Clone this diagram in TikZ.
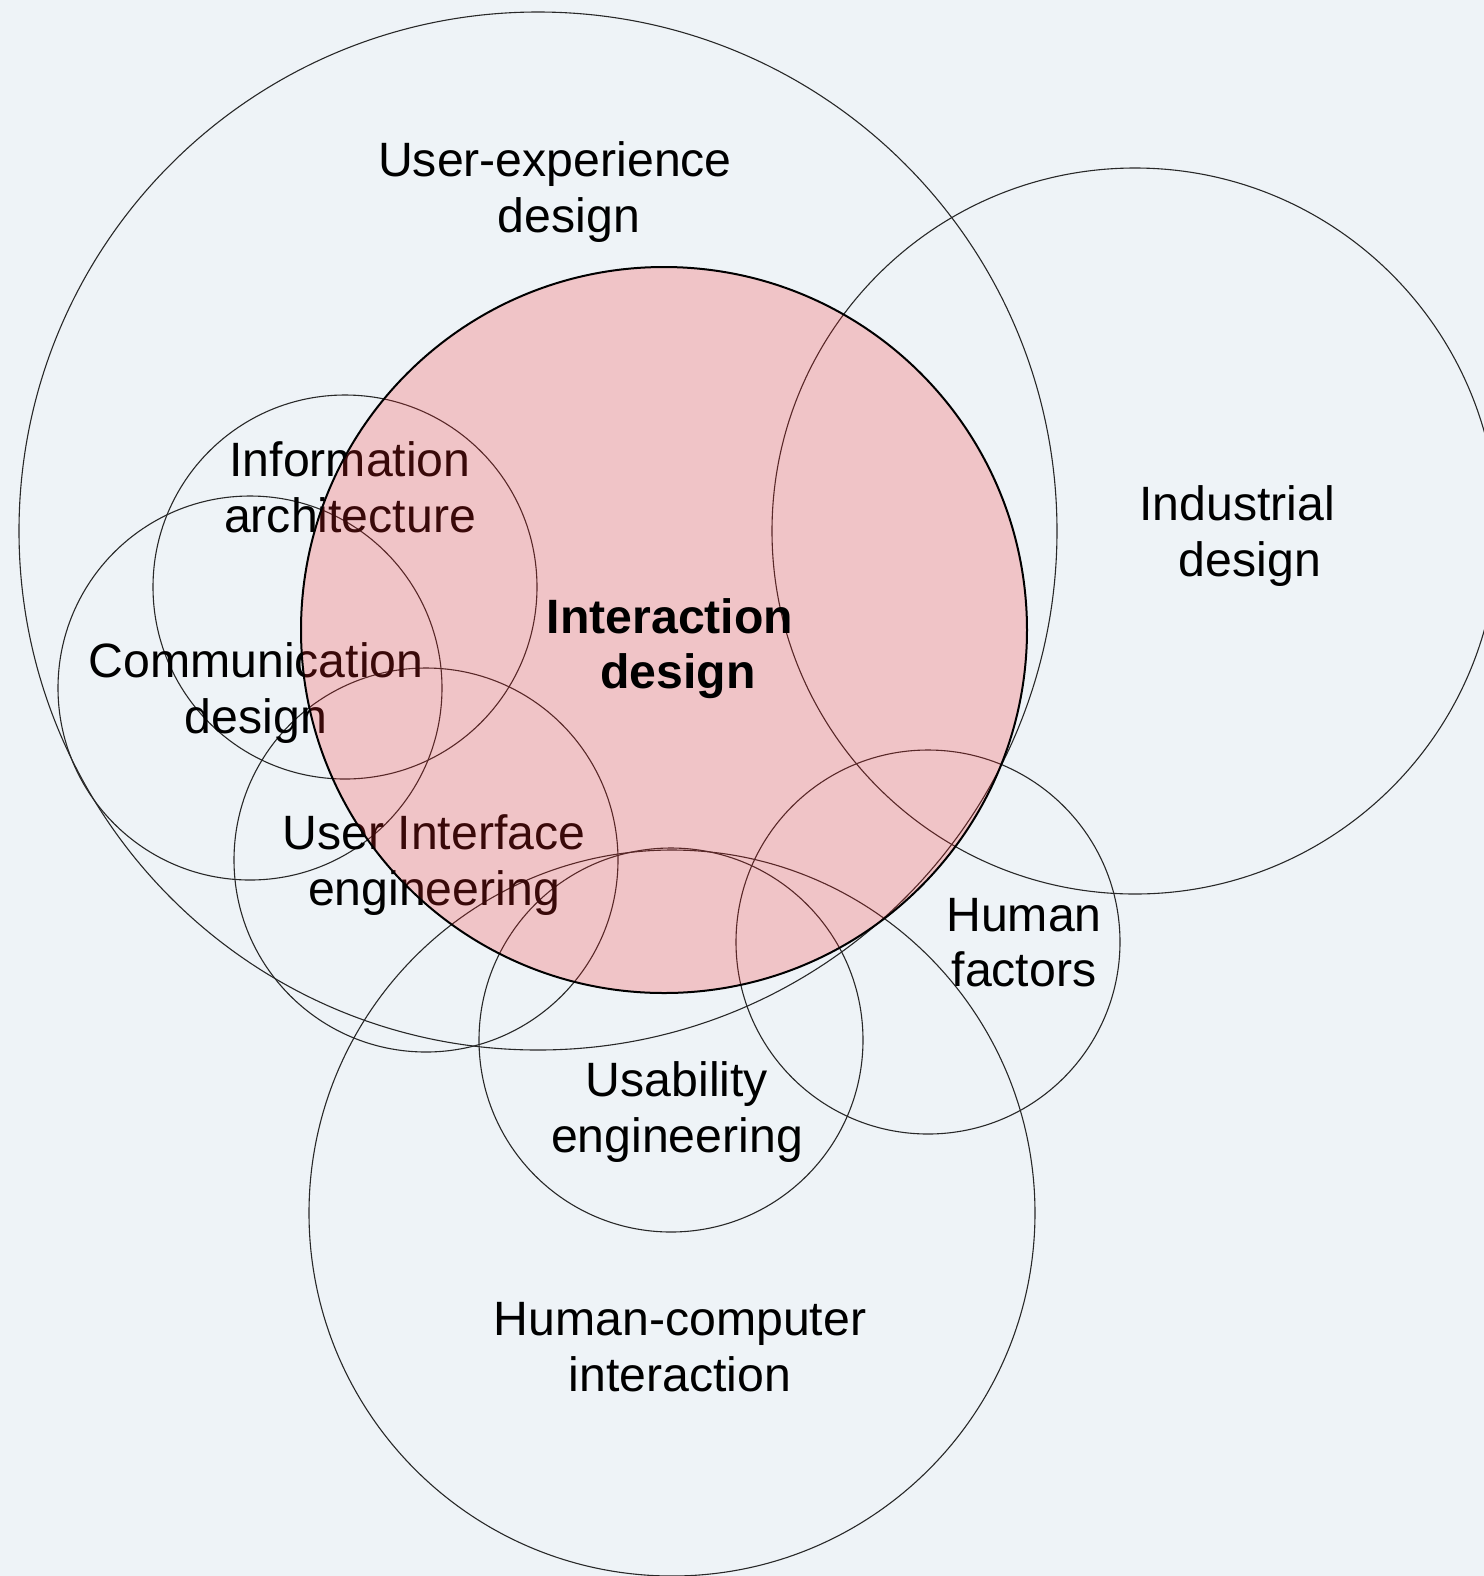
\documentclass[tikz,border=0pt]{standalone}
\usepackage{fontspec}
\setmainfont{Liberation Sans}
\definecolor{bgc}{RGB}{238,243,247}
\definecolor{ixred}{RGB}{250,40,40}
\definecolor{ringc}{RGB}{40,40,40}
\begin{document}
\begin{tikzpicture}[x=0.5pt,y=-0.5pt,
  ring/.style={circle, draw=ringc, line width=0.55pt, inner sep=0pt, outer sep=0pt},
  lbl/.style={align=center, font=\fontsize{24.1}{27.6}\selectfont, inner sep=0pt, text=black}]
\useasboundingbox (0,0) rectangle (1484,1576);
\fill[bgc] (0,0) rectangle (1484,1576);
% rings
\node[ring, minimum size=519pt] (ux)  at (538,531)  {};
\node[ring, minimum size=363pt] (ind) at (1135,531) {};
\node[ring, minimum size=192pt] (ia)  at (345,587)  {};
\node[ring, minimum size=192pt] (cd)  at (250,688)  {};
\node[ring, minimum size=192pt] (ui)  at (426,860)  {};
\node[ring, minimum size=192pt] (hf)  at (928,942)  {};
\node[ring, minimum size=192pt] (ue)  at (671,1040) {};
\node[ring, minimum size=363pt] (hci) at (672,1213) {};
% labels
\node[lbl] (uxl)  at (555,193.5)  {\strut User-experience\\\hspace*{14pt}\strut design};
\node[lbl] (indl) at (1237,537.5) {\strut Industrial\\\hspace*{13pt}\strut design};
\node[lbl] (ial)  at (350,493.5)  {\strut Information\\\strut architecture};
\node[lbl] (cdl)  at (256,694.5)  {\strut Communication\\\strut design};
\node[lbl] (uil)  at (434,866.5)  {\strut User Interface\\\strut engineering};
\node[lbl] (hfl)  at (1024,948)   {\strut Human\\\strut factors};
\node[lbl] (uel)  at (677,1113.5) {\strut Usability\\\strut engineering};
\node[lbl] (hcil) at (680,1352.5) {\strut Human-computer\\\strut interaction};
% interaction design
\node[circle, minimum size=363pt, inner sep=0pt, fill=ixred, fill opacity=0.23,
      draw=black, draw opacity=1, line width=1pt] (ixd) at (664,630) {};
\node[lbl, font=\fontsize{24.1}{27.6}\selectfont\bfseries] (ixdl) at (670,650)
  {\strut Interaction\\\hspace*{8pt}\strut design};
\end{tikzpicture}
\end{document}
